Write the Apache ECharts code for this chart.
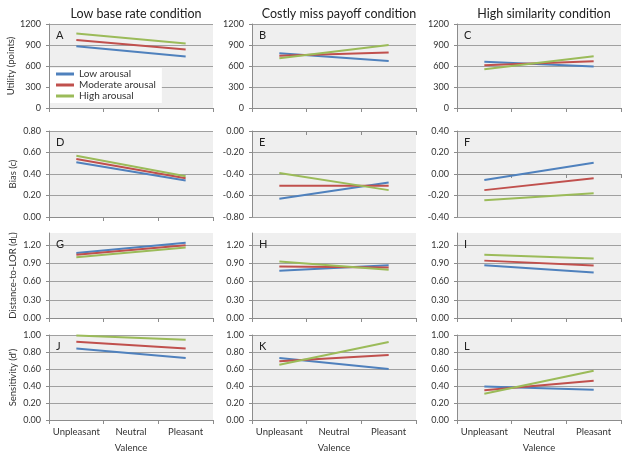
<!DOCTYPE html>
<html>
<head>
<meta charset="utf-8">
<script src="https://cdn.jsdelivr.net/npm/echarts@6/dist/echarts.min.js"></script>
<style>
  html, body { margin: 0; padding: 0; background: #fff; }
  #main { width: 626px; height: 458px; }
</style>
</head>
<body>
<div id="main"></div>
<script>
const valence = ['Unpleasant', 'Neutral', 'Pleasant'];
const conditions = ['Low base rate condition', 'Costly miss payoff condition', 'High similarity condition'];
const arousal = ['Low arousal', 'Moderate arousal', 'High arousal'];
const letters = ['A', 'B', 'C', 'D', 'E', 'F', 'G', 'H', 'I', 'J', 'K', 'L'];

// one entry per condition, values at [Unpleasant, Neutral, Pleasant]
const utilityLow = [[881, null, 736], [783, null, 673], [659, null, 593]];
const utilityModerate = [[970, null, 834], [745, null, 792], [612, null, 668]];
const utilityHigh = [[1064, null, 923], [711, null, 901], [555, null, 739]];

const biasLow = [[0.51, null, 0.34], [-0.63, null, -0.48], [-0.055, null, 0.105]];
const biasModerate = [[0.54, null, 0.36], [-0.51, null, -0.51], [-0.15, null, -0.04]];
const biasHigh = [[0.57, null, 0.38], [-0.39, null, -0.55], [-0.245, null, -0.18]];

const distLow = [[1.07, null, 1.24], [0.78, null, 0.87], [0.87, null, 0.75]];
const distModerate = [[1.04, null, 1.20], [0.85, null, 0.83], [0.945, null, 0.865]];
const distHigh = [[1.00, null, 1.16], [0.93, null, 0.795], [1.04, null, 0.98]];

const sensLow = [[0.84, null, 0.73], [0.73, null, 0.60], [0.395, null, 0.357]];
const sensModerate = [[0.92, null, 0.84], [0.69, null, 0.765], [0.35, null, 0.463]];
const sensHigh = [[0.995, null, 0.945], [0.65, null, 0.918], [0.31, null, 0.58]];

// y axis ranges per row / condition
const rowNames = ['Utility (points)', 'Bias (c)', 'Distance-to-LOR (d{sub|L})', "Sensitivity (d')"];
const yMin = [[0, 0, 0], [0, -0.8, -0.4], [0, 0, 0], [0, 0, 0]];
const yMax = [[1200, 1200, 1200], [0.8, 0, 0.4], [1.4, 1.4, 1.4], [1, 1, 1]];
const yStep = [300, 0.2, 0.3, 0.2];
const yDigits = [0, 2, 2, 2];

const rowData = [
  [utilityLow, utilityModerate, utilityHigh],
  [biasLow, biasModerate, biasHigh],
  [distLow, distModerate, distHigh],
  [sensLow, sensModerate, sensHigh]
];

const colors = ['#4F81BD', '#C0504D', '#9BBB59'];
const font = 'Lato, "Open Sans", sans-serif';
const colLeft = [49, 252, 457];
const plotW = 164;
const rowTop = [24, 131, 233, 335];
const rowH = [84, 86, 85, 85];

const grid = [], xAxis = [], yAxis = [], series = [], graphic = [];

for (let r = 0; r < 4; r++) {
  for (let c = 0; c < 3; c++) {
    const idx = r * 3 + c;
    grid.push({
      left: colLeft[c], top: rowTop[r], width: plotW, height: rowH[r],
      show: true, backgroundColor: '#efefef', borderWidth: 0
    });
    xAxis.push({
      gridIndex: idx,
      type: 'category',
      data: valence,
      boundaryGap: true,
      axisLine: { lineStyle: { color: '#8c8c8c', width: 1 } },
      axisTick: { show: true, length: 4, lineStyle: { color: '#8c8c8c' } },
      axisLabel: { show: r === 3, interval: 0, fontSize: 9.5, color: '#333', margin: 7, fontFamily: font },
      name: r === 3 ? 'Valence' : '',
      nameLocation: 'middle',
      nameGap: 23,
      nameTextStyle: { fontSize: 9.5, color: '#333', fontFamily: font }
    });
    const digits = yDigits[r];
    yAxis.push({
      gridIndex: idx,
      type: 'value',
      min: yMin[r][c],
      max: yMax[r][c],
      interval: yStep[r],
      axisLine: { show: true, lineStyle: { color: '#8c8c8c' } },
      axisTick: { show: true, length: 3, lineStyle: { color: '#8c8c8c' } },
      splitLine: { show: true, showMaxLine: r !== 2, lineStyle: { color: '#a0a0a0', width: 1 } },
      axisLabel: {
        fontSize: 9, color: '#333', margin: 8, fontFamily: font,
        showMaxLabel: r !== 2,
        formatter: v => v.toFixed(digits)
      },
      name: c === 0 ? rowNames[r] : '',
      nameLocation: 'middle',
      nameGap: 31,
      nameTextStyle: {
        fontSize: 9.5, color: '#333', fontFamily: font,
        rich: { sub: { fontSize: 7, verticalAlign: 'bottom', padding: [4, 0, 0, 0], fontFamily: font, color: '#333' } }
      }
    });
    for (let k = 0; k < 3; k++) {
      series.push({
        type: 'line',
        name: arousal[k],
        xAxisIndex: idx,
        yAxisIndex: idx,
        data: rowData[r][k][c],
        connectNulls: true,
        symbol: 'none',
        lineStyle: { width: 2, color: colors[k] },
        itemStyle: { color: colors[k] },
        z: 3
      });
    }
    graphic.push({
      type: 'text',
      left: colLeft[c] + 7,
      top: rowTop[r] + 6,
      style: { text: letters[idx], fontSize: 11, fill: '#222', fontFamily: font },
      z: 10
    });
  }
}

const title = conditions.map((t, c) => ({
  text: t,
  left: colLeft[c] + plotW / 2,
  top: 2,
  textAlign: 'center',
  textStyle: { fontSize: 12.5, fontWeight: 'normal', color: '#222', fontFamily: font }
}));

const chart = echarts.init(document.getElementById('main'));
chart.setOption({
  animation: false,
  backgroundColor: '#fff',
  title: title,
  grid: grid,
  xAxis: xAxis,
  yAxis: yAxis,
  series: series,
  graphic: graphic,
  legend: {
    data: arousal,
    orient: 'vertical',
    left: 50,
    top: 68,
    backgroundColor: '#fff',
    padding: [1, 6, 2, 6],
    itemGap: 1,
    itemWidth: 18,
    itemHeight: 3,
    icon: 'rect',
    textStyle: { fontSize: 10, color: '#333', fontFamily: font },
    z: 5
  }
});
</script>
</body>
</html>
